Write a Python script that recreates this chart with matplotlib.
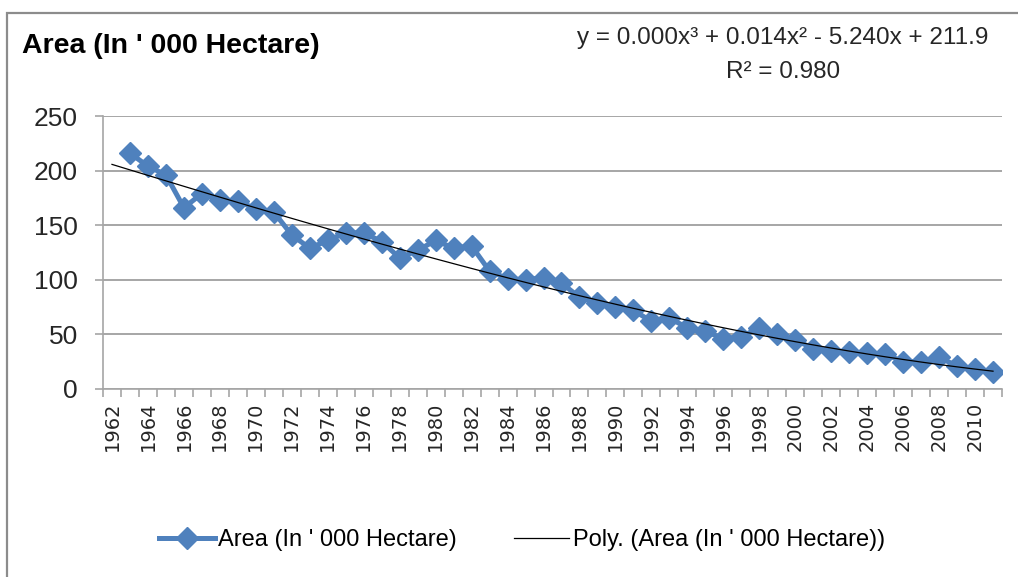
import numpy as np
import matplotlib
matplotlib.use("Agg")
import matplotlib.pyplot as plt
from matplotlib.patches import Rectangle

# category axis 1962..2011, data starts 1963 (1962 left blank)
years = list(range(1962, 2012))
area_years = list(range(1963, 2012))
area = [216, 204, 196, 166, 179, 173, 172, 165, 162, 141,
        129, 136, 143, 143, 135, 120, 127, 136, 129, 131,
        108, 101, 100, 102, 97, 84, 79, 75, 72, 62,
        65, 56, 53, 46, 48, 56, 50, 45, 37, 35,
        34, 33, 32, 25, 25, 29, 21, 18, 16]
yticks = [0, 50, 100, 150, 200, 250]
title = "Area (In ' 000 Hectare)"
series_label = "Area (In ' 000 Hectare)"
trend_label = "Poly. (Area (In ' 000 Hectare))"
eq_text = "y = 0.000x\u00b3 + 0.014x\u00b2 - 5.240x + 211.9"
r2_text = "R\u00b2 = 0.980"

BLUE = "#4F81BD"
GRID = "#A6A6A6"
FONT = ["Liberation Sans", "DejaVu Sans"]

W, H = 1018, 577
fig = plt.figure(figsize=(W / 100, H / 100), dpi=100)
fig.patch.set_facecolor("white")

# outer chart frame
fig.add_artist(Rectangle((7 / W, -0.05), 1.1, 1.05 - 13 / H, transform=fig.transFigure,
                         fill=False, edgecolor="#8C8C8C", linewidth=1.6))

left, right, top, bottom = 103, 1002, 116, 389
ax = fig.add_axes([left / W, 1 - bottom / H, (right - left) / W, (bottom - top) / H])

# category positions: 1962 -> 1
xpos = [years.index(y) + 1 for y in area_years]
ax.plot(xpos, area, color=BLUE, linewidth=3.6, marker="D", markersize=11.5,
        markeredgecolor=BLUE, label=series_label, zorder=3)

# cubic trend fitted on category index, drawn over the whole axis
coef = np.polyfit(xpos, area, 3)
xt = np.arange(1, len(years) + 1)
ax.plot(xt, np.polyval(coef, xt), color="black", linewidth=0.9,
        label=trend_label, zorder=4)

ax.set_xlim(0.5, len(years) + 0.5)
ax.set_ylim(0, 250)
for s in ["top", "right"]:
    ax.spines[s].set_visible(False)
for s in ["left", "bottom"]:
    ax.spines[s].set_color(GRID)
    ax.spines[s].set_linewidth(1.2)

ax.set_yticks(yticks)
ax.yaxis.grid(True, color=GRID, linewidth=1.4)
ax.set_axisbelow(True)
ax.tick_params(axis="y", direction="out", length=6, width=1.2, color=GRID,
               pad=12, labelsize=19, labelcolor="#262626")
for lab in ax.get_yticklabels():
    lab.set_family(FONT)

# boundaries ticks (major), labels on every 2nd category (minor)
ax.set_xticks(np.arange(0.5, len(years) + 1, 1.0))
ax.set_xticklabels([])
ax.tick_params(axis="x", which="major", direction="out", length=6, width=1.2, color=GRID)
lab_pos = xt[::2]
ax.set_xticks(lab_pos, minor=True)
ax.set_xticklabels([str(years[i - 1]) for i in lab_pos], minor=True, rotation=90,
                   fontsize=14, color="#262626", family="DejaVu Sans")
ax.tick_params(axis="x", which="minor", length=0, pad=9)

fig.text(22 / W, 1 - 46 / H, title, fontsize=20.5, fontweight="bold", family=FONT,
         va="center", ha="left", color="black")
fig.text(783 / W, 1 - 38 / H, eq_text, fontsize=17.5, family=FONT, ha="center",
         va="center", color="#262626")
fig.text(783 / W, 1 - 72 / H, r2_text, fontsize=17.5, family=FONT, ha="center",
         va="center", color="#262626")

fig.legend(loc="center", bbox_to_anchor=(522 / W, 1 - 540 / H), ncol=2,
           frameon=False, handlelength=2.35, columnspacing=2.4, handletextpad=0.15,
           prop={"family": FONT, "size": 17})

fig.savefig("out.png", dpi=100)
